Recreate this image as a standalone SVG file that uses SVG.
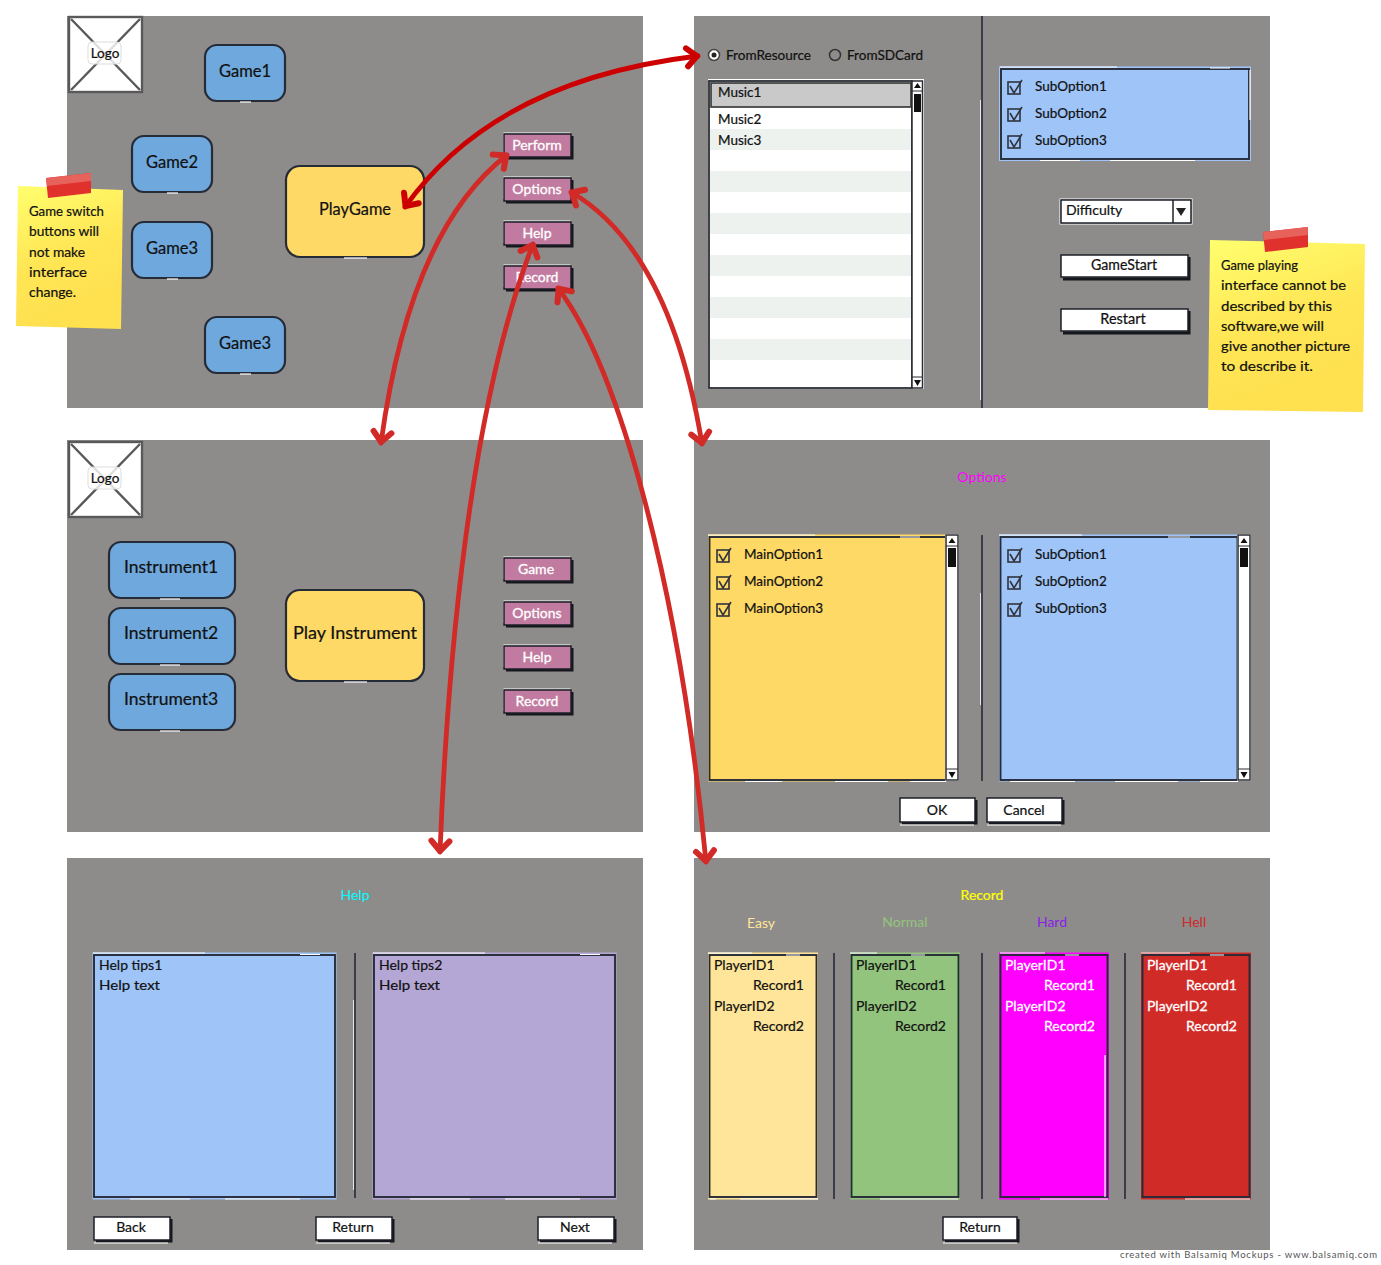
<svg xmlns="http://www.w3.org/2000/svg" width="1381" height="1265" viewBox="0 0 1381 1265">
<style>
text{font-family:"Lato","Noto Sans","DejaVu Sans",sans-serif;fill:#111;stroke:#111;stroke-width:0.22px}
.panel{fill:#8e8c8a}
.m{text-anchor:middle}
.s14{font-size:14px}.s13{font-size:13.5px}.s145{font-size:14.5px}.s17{font-size:17.5px}.s165{font-size:16.5px}.s18{font-size:18px}
text.wt{fill:#fff;stroke:#fff;stroke-width:0.3px}
.rb{stroke:#262b38;stroke-width:2.2}
.blue{fill:#6fa8dc}.gold{fill:#ffd966}.sky{fill:#9fc5f8}
.hl{fill:none;stroke:#fff;stroke-width:1.2}
.ink{fill:none;stroke:#262b38;stroke-width:1.9}
.btn{fill:#fff;stroke:#1c1f28;stroke-width:1.5}
.pink{fill:#c27ba0;stroke:#1c1f28;stroke-width:1.5}
.shadow{fill:none;stroke:#15171c;stroke-width:3}
.logoline{stroke:#59595b;stroke-width:2.4;fill:none}
.arrow{fill:none;stroke-width:4.8;stroke-linecap:round}
.tape{fill:#e0312c}
.tape2{fill:#e8625c}
.div{stroke:#262b38;stroke-width:1.6}
</style>
<defs>
<linearGradient id="note" x1="0" y1="0" x2="0.3" y2="1"><stop offset="0" stop-color="#ffff6e"/><stop offset="0.55" stop-color="#ffe655"/><stop offset="1" stop-color="#ffe04f"/></linearGradient>
<marker id="hRed" markerUnits="userSpaceOnUse" markerWidth="30" markerHeight="30" refX="20" refY="15" orient="auto-start-reverse" overflow="visible"><path d="M9,6 L19,15 L9,24" fill="none" stroke="#d12a27" stroke-width="6" stroke-linecap="round" stroke-linejoin="round"/></marker>
<marker id="hDark" markerUnits="userSpaceOnUse" markerWidth="30" markerHeight="30" refX="20" refY="15" orient="auto-start-reverse" overflow="visible"><path d="M9,6 L19,15 L9,24" fill="none" stroke="#cc0000" stroke-width="6" stroke-linecap="round" stroke-linejoin="round"/></marker>
<g id="chk"><rect x="0" y="2" width="12" height="12" fill="none" stroke="#30333c" stroke-width="1.6"/><path d="M2,6 L6,13 L14,0" fill="none" stroke="#30333c" stroke-width="1.6"/></g>
<g id="scroll"><rect x="-0.5" y="-0.5" width="13" height="246" fill="none" stroke="#fff" stroke-width="1"/><rect x="0" y="0" width="12" height="245" fill="#fff" stroke="#2a2d35" stroke-width="1.5"/><path d="M0,11 H12 M0,234 H12" stroke="#2a2d35" stroke-width="1"/><path d="M2.5,8 L6,3 L9.5,8Z M2.5,237 L6,243 L9.5,237Z" fill="#111"/><rect x="2" y="13" width="8" height="19" fill="#111"/></g>
<g id="logo"><rect x="1" y="1" width="73" height="75" fill="#fff"/><rect x="1" y="1" width="73" height="75" class="logoline"/><path d="M3,3 L72,74 M72,3 L3,74" class="logoline"/><rect x="20" y="26" width="33" height="22" rx="4" fill="#fff" fill-opacity="0.8" stroke="#ddd"/><text x="37" y="42" class="m s13">Logo</text></g>
<path id="halo" d="M0,22 V0 H67" fill="none" stroke="#fff" stroke-width="1"/>
<path id="halob" d="M0,0 H74" fill="none" stroke="#fff" stroke-width="1"/>
</defs>
<rect width="1381" height="1265" fill="#fff"/>
<g id="panels">
<rect class="panel" x="67" y="16" width="576" height="392"/>
<rect class="panel" x="694" y="16" width="576" height="392"/>
<rect class="panel" x="67" y="440" width="576" height="392"/>
<rect class="panel" x="694" y="440" width="576" height="392"/>
<rect class="panel" x="67" y="858" width="576" height="392"/>
<rect class="panel" x="694" y="858" width="576" height="392"/>
</g>

<g id="logo1"><use href="#logo" x="68" y="16"/></g>
<g id="game1"><rect class="blue rb" x="205" y="45" width="80" height="56" rx="12"/><path class="hl" d="M240,102 H251"/><text x="245" y="77" class="m s165">Game1</text></g>
<g id="game2"><rect class="blue rb" x="132" y="136" width="80" height="56" rx="12"/><path class="hl" d="M167,193 H178"/><text x="172" y="168" class="m s165">Game2</text></g>
<g id="game3a"><rect class="blue rb" x="132" y="222" width="80" height="56" rx="12"/><path class="hl" d="M167,279 H178"/><text x="172" y="254" class="m s165">Game3</text></g>
<g id="game3b"><rect class="blue rb" x="205" y="317" width="80" height="56" rx="12"/><path class="hl" d="M240,374 H251"/><text x="245" y="349" class="m s165">Game3</text></g>
<g id="playgame"><rect class="gold rb" x="286" y="166" width="138" height="91" rx="14"/><path class="hl" d="M344,258 H367"/><text x="355" y="215" class="m s18" textLength="72" lengthAdjust="spacingAndGlyphs">PlayGame</text></g>
<g id="perform"><use href="#halo" x="503.5" y="133"/><path class="shadow" d="M572,136 V158 H506"/><rect class="pink" x="504" y="134" width="67" height="23"/><text x="537" y="150" class="m s14 wt">Perform</text></g>
<g id="options1"><use href="#halo" x="503.5" y="177"/><path class="shadow" d="M572,180 V202 H506"/><rect class="pink" x="504" y="178" width="67" height="23"/><text x="537" y="194" class="m s14 wt">Options</text></g>
<g id="help1"><use href="#halo" x="503.5" y="221"/><path class="shadow" d="M572,224 V246 H506"/><rect class="pink" x="504" y="222" width="67" height="23"/><text x="537" y="238" class="m s14 wt">Help</text></g>
<g id="record1"><use href="#halo" x="503.5" y="265"/><path class="shadow" d="M572,268 V290 H506"/><rect class="pink" x="504" y="266" width="67" height="23"/><text x="537" y="282" class="m s14 wt">Record</text></g>
<g id="note1"><polygon points="18,186 123,190 121,329 16,326" fill="url(#note)"/><polygon class="tape" points="46,178 91,173 91,193 48,198"/><polygon class="tape2" points="46,178 91,173 91,181 47,186"/>
<text x="29" y="216" class="s14" textLength="75" lengthAdjust="spacingAndGlyphs">Game switch</text><text x="29" y="236" class="s14" textLength="70" lengthAdjust="spacingAndGlyphs">buttons will</text><text x="29" y="257" class="s14" textLength="56" lengthAdjust="spacingAndGlyphs">not make</text><text x="29" y="277" class="s14" textLength="58" lengthAdjust="spacingAndGlyphs">interface</text><text x="29" y="297" class="s14" textLength="47" lengthAdjust="spacingAndGlyphs">change.</text></g>

<g id="source">
<line x1="982" y1="16" x2="982" y2="408" stroke="#262b38" stroke-width="1.6"/><line x1="980.5" y1="100" x2="980.5" y2="400" stroke="#fff" stroke-width="0.8"/>
<circle cx="714" cy="55" r="5.5" fill="#fff" stroke="#444" stroke-width="1.5"/><circle cx="714" cy="55" r="2.5" fill="#222"/><text x="726" y="60" class="s14" textLength="85" lengthAdjust="spacingAndGlyphs">FromResource</text>
<circle cx="835" cy="55" r="5.5" fill="#8e8c8a" stroke="#333" stroke-width="1.5"/><text x="847" y="60" class="s14" textLength="76" lengthAdjust="spacingAndGlyphs">FromSDCard</text>
</g>
<g id="musiclist">
<rect x="708" y="79" width="216" height="310" fill="#fff"/>
<rect x="709" y="81" width="203" height="307" fill="#fff" stroke="#2a2d35" stroke-width="1.8"/>
<path fill="#edf2ef" d="M710,129h201v21h-201zM710,171h201v21h-201zM710,213h201v21h-201zM710,255h201v21h-201zM710,297h201v21h-201zM710,339h201v21h-201z"/>
<rect x="711" y="83" width="200" height="24" fill="#c9c9c9" stroke="#333" stroke-width="1.6"/>
<text x="718" y="97" class="s13">Music1</text><text x="718" y="124" class="s13">Music2</text><text x="718" y="145" class="s13">Music3</text>
<rect x="912" y="81" width="10.5" height="307" fill="#fff" stroke="#2a2d35" stroke-width="1.5"/><path d="M912,91 H923 M912,377 H923" stroke="#2a2d35"/><path d="M914,88 L917.5,83 L921,88Z M914,380 L917.5,386 L921,380Z" fill="#111"/><rect x="914" y="94" width="7" height="18" fill="#111"/>
</g>
<g id="suboptions1"><rect class="sky" x="999" y="66.500" width="252" height="94.500"/><rect x="1001" y="69" width="248" height="90" class="ink"/><path class="hl" d="M1000,67 H1117 M1210,68 H1230 M1040,160.500 H1080 M1110,160.500 H1195 M1250,70 V120"/>
<use href="#chk" x="1008" y="80"/><text x="1035" y="91" class="s13">SubOption1</text><use href="#chk" x="1008" y="107"/><text x="1035" y="118" class="s13">SubOption2</text><use href="#chk" x="1008" y="134"/><text x="1035" y="145" class="s13">SubOption3</text></g>
<g id="difficulty"><rect x="1060" y="199" width="132" height="25" fill="none" stroke="#fff"/><rect class="btn" x="1061" y="200" width="130" height="23"/><line x1="1173" y1="200" x2="1173" y2="223" stroke="#222" stroke-width="1.5"/><path d="M1176,208 H1186 L1181,216Z" fill="#222"/><text x="1066" y="215" class="s14">Difficulty</text></g>
<g id="gamestart"><path class="shadow" d="M1189,257 V279 H1063"/><rect class="btn" x="1061" y="255" width="127" height="22"/><text x="1124" y="270" class="m s145" textLength="66" lengthAdjust="spacingAndGlyphs">GameStart</text></g>
<g id="restart"><path class="shadow" d="M1189,311 V333 H1063"/><rect class="btn" x="1061" y="309" width="127" height="22"/><text x="1123" y="324" class="m s145">Restart</text></g>
<g id="note2"><polygon points="1210,240 1365,244 1363,412 1208,410" fill="url(#note)"/><polygon class="tape" points="1263,232 1308,227 1308,247 1265,252"/><polygon class="tape2" points="1263,232 1308,227 1308,235 1264,240"/>
<text x="1221" y="270" class="s14" textLength="77" lengthAdjust="spacingAndGlyphs">Game playing</text><text x="1221" y="290" class="s14" textLength="125" lengthAdjust="spacingAndGlyphs">interface cannot be</text><text x="1221" y="311" class="s14" textLength="111" lengthAdjust="spacingAndGlyphs">described by this</text><text x="1221" y="331" class="s14" textLength="103" lengthAdjust="spacingAndGlyphs">software,we will</text><text x="1221" y="351" class="s14" textLength="129" lengthAdjust="spacingAndGlyphs">give another picture</text><text x="1221" y="371" class="s14" textLength="92" lengthAdjust="spacingAndGlyphs">to describe it.</text></g>

<g id="logo2"><use href="#logo" x="68" y="441"/></g>
<g id="instrument1"><rect class="blue rb" x="109" y="542" width="126" height="56" rx="12"/><path class="hl" d="M160,599 H180"/><text x="171" y="573" class="m s17">Instrument1</text></g>
<g id="instrument2"><rect class="blue rb" x="109" y="608" width="126" height="56" rx="12"/><path class="hl" d="M160,665 H180"/><text x="171" y="639" class="m s17">Instrument2</text></g>
<g id="instrument3"><rect class="blue rb" x="109" y="674" width="126" height="56" rx="12"/><path class="hl" d="M160,731 H180"/><text x="171" y="705" class="m s17">Instrument3</text></g>
<g id="playinstrument"><rect class="gold rb" x="286" y="590" width="138" height="91" rx="14"/><path class="hl" d="M344,682 H367"/><text x="355" y="639" class="m s18" textLength="124" lengthAdjust="spacingAndGlyphs">Play Instrument</text></g>
<g id="game2b"><use href="#halo" x="503.5" y="557"/><path class="shadow" d="M572,560 V582 H506"/><rect class="pink" x="504" y="558" width="67" height="23"/><text x="536" y="574" class="m s14 wt">Game</text></g>
<g id="options2"><use href="#halo" x="503.5" y="601"/><path class="shadow" d="M572,604 V626 H506"/><rect class="pink" x="504" y="602" width="67" height="23"/><text x="537" y="618" class="m s14 wt">Options</text></g>
<g id="help2"><use href="#halo" x="503.5" y="645"/><path class="shadow" d="M572,648 V670 H506"/><rect class="pink" x="504" y="646" width="67" height="23"/><text x="537" y="662" class="m s14 wt">Help</text></g>
<g id="record2"><use href="#halo" x="503.5" y="689"/><path class="shadow" d="M572,692 V714 H506"/><rect class="pink" x="504" y="690" width="67" height="23"/><text x="537" y="706" class="m s14 wt">Record</text></g>

<g id="optionsscreen">
<text x="982" y="482" class="m s14" style="fill:#ff00ff;stroke:none">Options</text>
<rect class="gold" x="708" y="534.500" width="239" height="247"/><rect class="ink" x="709.500" y="537" width="237" height="243"/>
<path class="hl" d="M708,535 H815 M900,537 H920 M745,781.500 H782 M835,781.500 H888 M910,781.500 H946"/>
<use href="#scroll" x="946" y="535"/>
<use href="#chk" x="717" y="548"/><text x="744" y="559" class="s13">MainOption1</text><use href="#chk" x="717" y="575"/><text x="744" y="586" class="s13">MainOption2</text><use href="#chk" x="717" y="602"/><text x="744" y="613" class="s13">MainOption3</text>
<line x1="982" y1="535" x2="982" y2="781" class="div"/><line x1="980.500" y1="593" x2="980.500" y2="705" stroke="#fff" stroke-width="0.8"/>
<rect class="sky" x="999" y="534.500" width="239" height="247"/><rect class="ink" x="1000.500" y="537" width="237" height="243"/>
<path class="hl" d="M999,535 H1082 M1168,537 H1190 M1010,781.500 H1075 M1115,781.500 H1178 M1200,781.500 H1238"/>
<use href="#scroll" x="1238" y="535"/>
<use href="#chk" x="1008" y="548"/><text x="1035" y="559" class="s13">SubOption1</text><use href="#chk" x="1008" y="575"/><text x="1035" y="586" class="s13">SubOption2</text><use href="#chk" x="1008" y="602"/><text x="1035" y="613" class="s13">SubOption3</text>
</g>
<g id="ok"><path class="shadow" d="M976,800 V823 H902"/><rect class="btn" x="900" y="798" width="75" height="24"/><use href="#halob" x="900" y="825"/><text x="937" y="815" class="m s14">OK</text></g>
<g id="cancel"><path class="shadow" d="M1063,800 V823 H989"/><rect class="btn" x="987" y="798" width="75" height="24"/><use href="#halob" x="987" y="825"/><text x="1024" y="815" class="m s14">Cancel</text></g>

<g id="helpscreen">
<text x="355" y="900" class="m s14" style="fill:#00ffff;stroke:none">Help</text>
<rect class="sky" x="92.500" y="952.500" width="244" height="247"/><rect class="ink" x="94" y="955" width="241" height="242"/>
<path class="hl" d="M93,953 H205 M300,954.500 H320 M130,1199 H190 M225,1199 H300"/>
<text x="99" y="970" class="s14">Help tips1</text><text x="99" y="990" class="s14" textLength="61" lengthAdjust="spacingAndGlyphs">Help text</text>
<line x1="355" y1="953" x2="355" y2="1198" class="div"/><line x1="353.500" y1="1000" x2="353.500" y2="1190" stroke="#fff" stroke-width="0.8"/>
<rect x="372.500" y="952.500" width="244" height="247" fill="#b4a7d6"/><rect class="ink" x="374" y="955" width="241" height="242"/>
<path class="hl" d="M373,953 H485 M580,954.500 H600 M410,1199 H470 M505,1199 H580"/>
<text x="379" y="970" class="s14">Help tips2</text><text x="379" y="990" class="s14" textLength="61" lengthAdjust="spacingAndGlyphs">Help text</text>
</g>
<g id="back"><path class="shadow" d="M171,1219 V1241 H96"/><rect class="btn" x="94" y="1217" width="76" height="23"/><use href="#halob" x="94" y="1243"/><text x="131" y="1232" class="m s14">Back</text></g>
<g id="return1"><path class="shadow" d="M393,1219 V1241 H318"/><rect class="btn" x="316" y="1217" width="76" height="23"/><use href="#halob" x="316" y="1243"/><text x="353" y="1232" class="m s14">Return</text></g>
<g id="next"><path class="shadow" d="M615,1219 V1241 H540"/><rect class="btn" x="538" y="1217" width="76" height="23"/><use href="#halob" x="538" y="1243"/><text x="575" y="1232" class="m s14">Next</text></g>

<g id="recordscreen">
<text x="982" y="900" class="m s14" style="fill:#ffff00;stroke:#ffff00">Record</text>
<text x="761" y="928" class="m s14" style="fill:#ffe599;stroke:none">Easy</text><text x="905" y="927" class="m s14" style="fill:#93c47d;stroke:none">Normal</text><text x="1052" y="927" class="m s14" style="fill:#8b1ee8;stroke:none">Hard</text><text x="1194" y="927" class="m s14" style="fill:#cc2929;stroke:none">Hell</text>
<rect x="708" y="952.500" width="110" height="247" fill="#ffe599"/><rect class="ink" x="709.500" y="955" width="107" height="242"/><path class="hl" d="M708,953 H752 M786,955 H800 M710,1199 H716 M740,1199 H818"/>
<text x="714" y="970" class="s14">PlayerID1</text><text x="753" y="990" class="s14">Record1</text><text x="714" y="1011" class="s14">PlayerID2</text><text x="753" y="1031" class="s14">Record2</text>
<line x1="834" y1="953" x2="834" y2="1199" class="div"/><line x1="816.500" y1="1010" x2="816.500" y2="1010" stroke="#fff"/>
<rect x="850" y="952.500" width="110" height="247" fill="#93c47d"/><rect class="ink" x="851.500" y="955" width="107" height="242"/><path class="hl" d="M850,953 H877 M911,955 H925 M880,1199 H958"/>
<text x="856" y="970" class="s14">PlayerID1</text><text x="895" y="990" class="s14">Record1</text><text x="856" y="1011" class="s14">PlayerID2</text><text x="895" y="1031" class="s14">Record2</text>
<line x1="982" y1="953" x2="982" y2="1199" class="div"/>
<rect x="999" y="952.500" width="110" height="247" fill="#ff00ff"/><rect class="ink" x="1000.500" y="955" width="107" height="242"/><path class="hl" d="M1000,953 H1045 M1065,955 H1079 M1040,1199 H1108 M1105,1055 V1197"/>
<text x="1005" y="970" class="s14 wt">PlayerID1</text><text x="1044" y="990" class="s14 wt">Record1</text><text x="1005" y="1011" class="s14 wt">PlayerID2</text><text x="1044" y="1031" class="s14 wt">Record2</text>
<line x1="1125" y1="953" x2="1125" y2="1199" class="div"/>
<rect x="1141" y="952.500" width="110" height="247" fill="#d02b27"/><rect class="ink" x="1142.500" y="955" width="107" height="242"/><path class="hl" d="M1141,953 H1190 M1210,955 H1224 M1185,1199 H1250"/>
<text x="1147" y="970" class="s14 wt">PlayerID1</text><text x="1186" y="990" class="s14 wt">Record1</text><text x="1147" y="1011" class="s14 wt">PlayerID2</text><text x="1186" y="1031" class="s14 wt">Record2</text>
</g>
<g id="return2"><path class="shadow" d="M1018,1219 V1241 H945"/><rect class="btn" x="943" y="1217" width="74" height="23"/><use href="#halob" x="943" y="1243"/><text x="980" y="1232" class="m s14">Return</text></g>
<text id="credit" x="1120" y="1258" textLength="257" lengthAdjust="spacing" style="font-size:9.5px;fill:#555;stroke:none">created with Balsamiq Mockups - www.balsamiq.com</text>

<g id="connectors">
<path class="arrow" stroke="#cc0000" d="M405,207 Q495,80 698,56" marker-start="url(#hDark)" marker-end="url(#hDark)"/>
<path class="arrow" stroke="#d12a27" d="M507,155 Q410,230 381,443" marker-start="url(#hRed)" marker-end="url(#hRed)"/>
<path class="arrow" stroke="#d12a27" d="M571,192 Q670,250 702,444" marker-start="url(#hRed)" marker-end="url(#hRed)"/>
<path class="arrow" stroke="#d12a27" d="M533,244 C480,380 450,600 440,852" marker-start="url(#hRed)" marker-end="url(#hRed)"/>
<path class="arrow" stroke="#d12a27" d="M558,288 C620,370 680,590 706,862" marker-start="url(#hRed)" marker-end="url(#hRed)"/>
</g>
</svg>
